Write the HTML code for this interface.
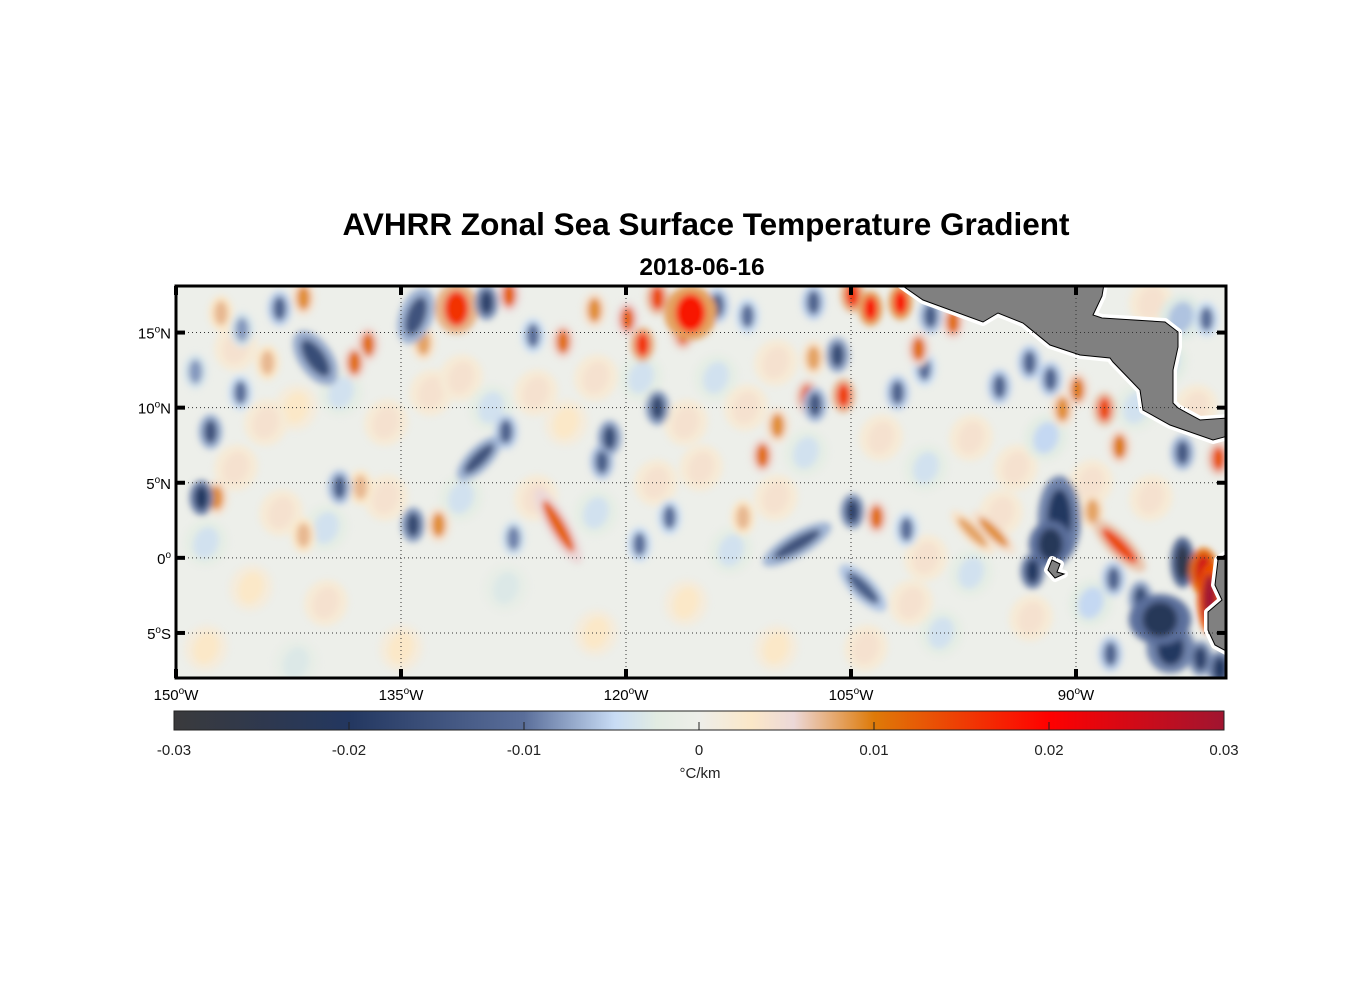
<!DOCTYPE html>
<html><head><meta charset="utf-8"><style>
body{margin:0;background:#fff;width:1356px;height:1000px;overflow:hidden}
svg text{font-family:"Liberation Sans",Arial,sans-serif}
</style></head><body>
<svg id="fig" width="1356" height="1000" viewBox="0 0 1356 1000" xmlns="http://www.w3.org/2000/svg">
<defs>
<filter id="blur" filterUnits="userSpaceOnUse" x="150" y="260" width="1100" height="440"><feGaussianBlur stdDeviation="3.2"/></filter>
<clipPath id="mapclip"><rect x="176" y="286" width="1050" height="392"/></clipPath>
<linearGradient id="cmap" x1="0" x2="1" y1="0" y2="0">
<stop offset="0" stop-color="#3a3a3c"/><stop offset="0.1667" stop-color="#233760"/>
<stop offset="0.3333" stop-color="#5a6e9a"/><stop offset="0.42" stop-color="#c8dcf5"/>
<stop offset="0.46" stop-color="#e2ece2"/><stop offset="0.5" stop-color="#eeeeea"/>
<stop offset="0.55" stop-color="#fbe8c8"/><stop offset="0.59" stop-color="#ecd8d8"/>
<stop offset="0.6667" stop-color="#de7a08"/><stop offset="0.8333" stop-color="#ff0000"/>
<stop offset="1" stop-color="#a01530"/></linearGradient>
</defs>
<text x="706" y="235" text-anchor="middle" font-size="31.5" font-weight="bold">AVHRR Zonal Sea Surface Temperature Gradient</text>
<text x="702" y="275" text-anchor="middle" font-size="24.5" font-weight="bold">2018-06-16</text>
<g clip-path="url(#mapclip)">
<rect x="176" y="286" width="1050" height="392" fill="#edefea"/>
<g id="blobs" filter="url(#blur)"></g>
<g id="land"></g>
</g>
<g id="grid"></g>
<rect x="176" y="286" width="1050" height="392" fill="none" stroke="#000" stroke-width="3"/>
<g id="ticks"></g>
<g id="cbar"></g>
</svg>
<script>
// ---- data: blob centres (lon °E, lat °N) and gradient values (°C/km)
const lons=[-143.1,-141.5,-147.7,-140.7,-137.2,-138.1,-148.3,-147.3,-139.1,-137.7,-134.2,-132.5,-134.0,-131.3,-129.3,-127.8,-129.8,-128.0,-133.5,-145.6,-147.0,-148.7,-145.7,-143.9,-127.5,-141.5,-124.2,-122.1,-119.9,-118.9,-117.9,-115.7,-116.2,-113.9,-111.9,-107.5,-107.5,-105.9,-104.9,-103.7,-105.5,-107.9,-107.4,-117.9,-121.1,-121.6,-110.9,-109.9,-124.5,-117.1,-119.1,-112.2,-108.6,-104.9,-103.3,-104.2,-126.2,-101.7,-99.7,-98.2,-100.5,-100.1,-101.9,-95.1,-93.1,-91.7,-89.9,-90.9,-88.1,-87.1,-82.9,-81.3,-80.5,-91.1,-91.7,-92.9,-87.1,-88.9,-96.9,-95.5,-101.3,-87.5,-82.9,-81.5,-81.1,-84.4,-83.7,-85.7,-81.7,-87.7,-80.4,
-146,-144,-142,-139,-136,-133,-131,-129,-126,-124,-122,-119,-116,-114,-112,-110,-108,-103,-100,-97,-94,-92,-89,-86,-85,-146,-143,-140,-136,-131,-126,-122,-118,-115,-113,-110,-100,-97,-95,-93,-99,-145,-140,-135,-128,-122,-116,-110,-104,-101,-89,-84,-83,-85,-82,-148,-142,-148];
const lats=[16.6,17.3,8.4,13.3,14.2,13.0,4.0,4.0,4.7,4.7,2.2,2.2,16.1,16.6,17.0,17.5,6.6,8.4,14.3,15.2,16.3,12.4,11.0,13.0,1.3,1.5,14.4,16.5,15.9,14.2,17.3,16.3,15.0,16.8,16.1,17.0,13.3,13.5,17.5,16.6,10.8,10.7,10.2,10.0,8.0,6.4,6.8,8.8,2.1,2.7,0.9,2.7,0.9,3.1,2.7,-2.0,14.8,17.0,16.1,15.7,13.9,12.6,11.0,11.4,13.0,11.9,11.2,9.9,9.9,7.4,7.0,15.9,6.6,2.6,0.9,-0.9,0.8,3.1,1.7,1.7,1.9,-1.4,-0.3,-0.9,-2.7,-4.1,-6.0,-2.7,-6.7,-6.4,-7.4,
14,9,10,11,9,11,12,10,11,9,12,12,9,12,10,13,7,8,6,8,6,8,5,10,4,6,3,2,4,4,4,3,5,6,0.5,4,0,-1,3,-4,-5,-2,-3,-6,-2,-5,-3,-6,-6,-3,-3,13,16,17,10,-6,-7,1];
const vals=[-0.012,0.009,-0.015,-0.016,0.011,0.011,-0.02,0.009,-0.013,0.007,-0.017,0.009,-0.015,0.016,-0.018,0.012,-0.015,-0.012,0.008,-0.008,0.007,-0.008,-0.01,0.007,-0.009,0.007,0.011,0.009,0.012,0.016,0.014,0.018,0.013,-0.012,-0.01,-0.012,0.008,-0.016,0.016,0.018,0.015,0.013,-0.014,-0.017,-0.016,-0.013,0.011,0.009,0.012,-0.01,-0.01,0.007,-0.015,-0.018,0.011,-0.013,-0.01,0.018,-0.013,0.011,0.011,-0.01,-0.012,-0.012,-0.012,-0.012,0.01,0.009,0.014,0.01,-0.014,-0.01,0.013,-0.02,-0.022,-0.02,0.014,0.008,0.008,0.009,-0.01,-0.012,-0.025,0.025,0.03,-0.022,-0.02,-0.016,-0.018,-0.012,-0.02,
0.004,0.004,0.003,-0.004,0.004,0.004,0.004,-0.004,0.004,0.003,0.004,-0.004,0.004,-0.004,0.004,0.004,-0.004,0.004,-0.004,0.004,0.004,-0.005,0.004,-0.004,0.004,0.004,0.004,-0.004,0.004,-0.004,0.004,-0.004,0.004,0.004,-0.004,0.004,0.004,-0.004,0.004,0.004,-0.004,0.003,0.004,0.003,-0.003,0.003,0.003,0.003,0.004,0.004,-0.005,-0.005,-0.006,0.004,0.004,0.003,-0.003,-0.004];
// shape style overrides (index: [rx°, ry°, rotation])
const shapes={3:[0.7,1.6,-35],12:[0.7,1.5,20],13:[0.9,1.3,0],16:[0.5,1.5,45],31:[1.1,1.4,0],48:[0.5,2.2,-30],52:[0.5,2.0,60],55:[0.5,1.6,-45],73:[0.9,2.2,0],74:[0.9,1.2,0],76:[0.5,1.8,-45],78:[0.4,1.5,-45],79:[0.4,1.5,-45],85:[1.3,1.3,0],86:[1.0,1.3,0],84:[0.5,1.8,0],83:[0.6,1.2,0],82:[0.5,1.3,0]};
const xTickVals=[-150,-135,-120,-105,-90];
const yTickVals=[15,10,5,0,-5];
const cbTicks=[-0.03,-0.02,-0.01,0,0.01,0.02,0.03];
const cbLabels=["-0.03","-0.02","-0.01","0","0.01","0.02","0.03"];

// ---- axes
const X0=176,X1=1226,Y0=286,Y1=678;
const LON0=-150,LON1=-80.0,LAT0=-8.0,LAT1=18.1;
const xs=lon=>X0+(lon-LON0)/(LON1-LON0)*(X1-X0);
const ys=lat=>Y1-(lat-LAT0)/(LAT1-LAT0)*(Y1-Y0);
const pxPerDeg=(X1-X0)/(LON1-LON0);
const NS="http://www.w3.org/2000/svg";
function mk(tag,attrs,parent){const e=document.createElementNS(NS,tag);for(const k in attrs)e.setAttribute(k,attrs[k]);parent.appendChild(e);return e;}

const cstops=[[-0.03,[58,58,60]],[-0.02,[35,55,96]],[-0.01,[90,110,154]],[-0.0048,[200,220,245]],[-0.0024,[226,236,226]],[0,[238,238,234]],[0.003,[251,232,200]],[0.0054,[236,216,216]],[0.01,[222,122,8]],[0.02,[255,0,0]],[0.03,[160,21,48]]];
function cmap(v){v=Math.max(-0.03,Math.min(0.03,v));for(let i=0;i<cstops.length-1;i++){const a=cstops[i],b=cstops[i+1];if(v<=b[0]){const t=(v-a[0])/(b[0]-a[0]);return 'rgb('+a[1].map((c,j)=>Math.round(c+(b[1][j]-c)*t)).join(',')+')';}}return 'rgb(160,21,48)';}

// blobs: faint ones first
const bg=document.getElementById('blobs');
const order=[...Array(lons.length).keys()].sort((a,b)=>Math.abs(vals[a])-Math.abs(vals[b]));
order.forEach(i=>{
  const faint=Math.abs(vals[i])<0.007;
  const s=shapes[i]||(faint?[0.9,1.2,20]:[0.5,0.9,0]);
  const cx=xs(lons[i]),cy=ys(lats[i]);
  const halo=mk('ellipse',{cx:cx,cy:cy,rx:s[0]*pxPerDeg*1.6,ry:s[1]*pxPerDeg*1.3,fill:cmap(vals[i]*0.45),transform:'rotate('+s[2]+' '+cx+' '+cy+')'},bg);
  
  
  const core=mk('ellipse',{cx:cx,cy:cy,rx:s[0]*pxPerDeg*0.9,ry:s[1]*pxPerDeg*0.9,fill:cmap(vals[i]),transform:'rotate('+s[2]+' '+cx+' '+cy+')'},bg);
  
  
});

// land
const lg=document.getElementById('land');
const landPolys=[
 "900,284 923,300 983,322 998,313 1023,323 1050,345 1080,355 1110,358 1113,362 1140,390 1143,410 1170,425 1213,440 1228,436 1228,418 1200,420 1178,408 1173,403 1173,370 1178,347 1178,332 1165,322 1102,318 1093,315 1102,296 1104,284",
 "1228,553 1218,560 1215,585 1222,600 1208,612 1208,630 1215,645 1228,652",
 "1052,560 1060,564 1057,572 1064,574 1055,578 1048,570"
];
landPolys.forEach(p=>{
  const h=mk('polygon',{points:p,fill:'#808080',stroke:'#fff','stroke-width':8,'stroke-linejoin':'round'},lg);
  
  
});
landPolys.forEach((p,i)=>{
  const l=mk('polygon',{points:p,fill:'#808080',stroke:'#000','stroke-width':1},lg);
  
  
});

// grid + ticks + labels
const gg=document.getElementById('grid'),tg=document.getElementById('ticks');
xTickVals.forEach(v=>{
  const x=xs(v);
  if(v>LON0){const gl=mk('line',{x1:x,x2:x,y1:Y0,y2:Y1,stroke:'#333','stroke-width':1,'stroke-dasharray':'1,3'},gg);
  
  }
  [[Y0,Y0+9],[Y1-9,Y1]].forEach(s=>{const t=mk('line',{x1:x,x2:x,y1:s[0],y2:s[1],stroke:'#000','stroke-width':4},tg);
  
  });
  const tx=mk('text',{x:x,y:700,'text-anchor':'middle','font-size':15},tg);
  
  
  tx.innerHTML=Math.abs(v)+'<tspan dy="-6" font-size="10">o</tspan><tspan dy="6">W</tspan>';
});
yTickVals.forEach(v=>{
  const y=ys(v);
  const gl=mk('line',{x1:X0,x2:X1,y1:y,y2:y,stroke:'#333','stroke-width':1,'stroke-dasharray':'1,3'},gg);
  
  
  [[X0,X0+9],[X1-9,X1]].forEach(s=>{const t=mk('line',{x1:s[0],x2:s[1],y1:y,y2:y,stroke:'#000','stroke-width':4},tg);
  
  });
  const tx=mk('text',{x:171,y:y+6,'text-anchor':'end','font-size':15},tg);
  
  
  tx.innerHTML=Math.abs(v)+'<tspan dy="-6" font-size="10">o</tspan><tspan dy="6">'+(v>0?'N':(v<0?'S':''))+'</tspan>';
});

// colorbar
const cb=document.getElementById('cbar');
const CX0=174,CX1=1224,CY0=711,CY1=730;
const cbx=v=>CX0+(v+0.03)/0.06*(CX1-CX0);
const r=mk('rect',{x:CX0,y:CY0,width:CX1-CX0,height:CY1-CY0,fill:'url(#cmap)',stroke:'#222','stroke-width':1},cb);


cbTicks.forEach((v,i)=>{
  const x=cbx(v);
  if(i>0&&i<cbTicks.length-1){const t=mk('line',{x1:x,x2:x,y1:CY1-8,y2:CY1,stroke:'#222','stroke-width':1},cb);
  
  }
  const tx=mk('text',{x:x,y:755,'text-anchor':'middle','font-size':15,fill:'#222'},cb);
  
  
  tx.textContent=cbLabels[i];
});
const ul=mk('text',{x:700,y:778,'text-anchor':'middle','font-size':15,fill:'#222'},cb);


ul.textContent='°C/km';
</script>
</body></html>
